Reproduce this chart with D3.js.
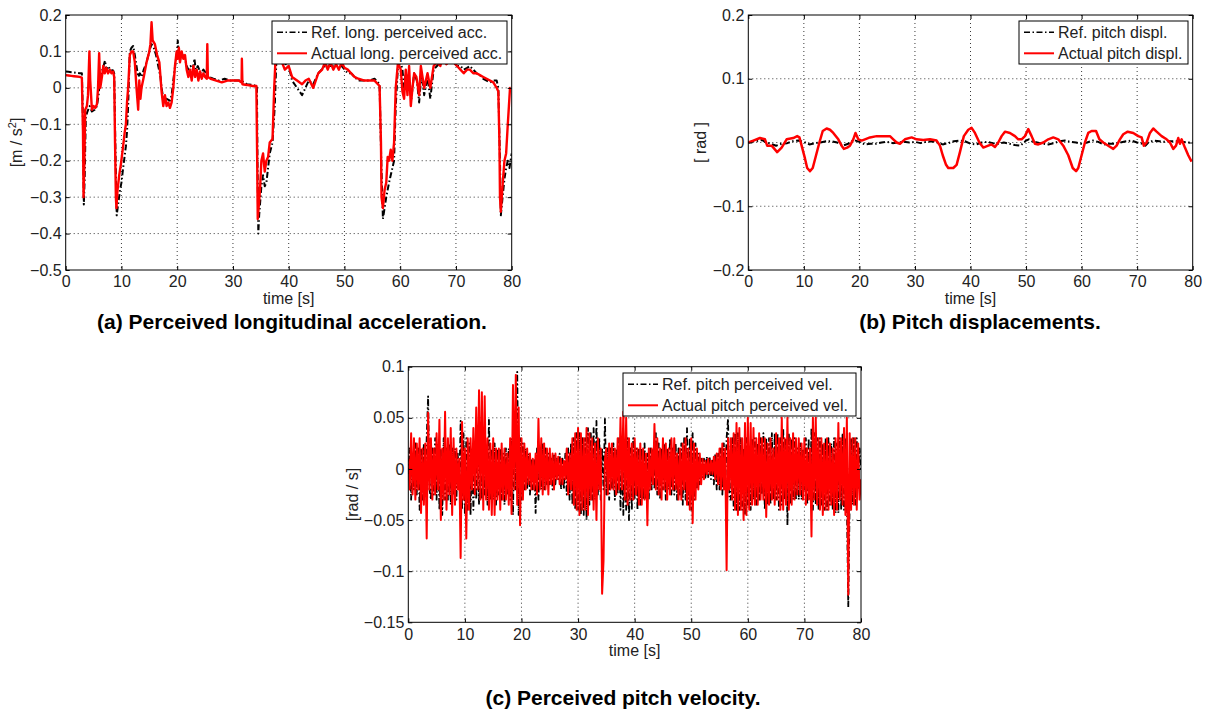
<!DOCTYPE html>
<html><head><meta charset="utf-8">
<script src="https://cdn.jsdelivr.net/npm/d3@7"></script>
<style>
html,body{margin:0;padding:0;background:#fff;}
svg{display:block;font-family:"Liberation Sans",Arial,Helvetica,sans-serif;}
</style></head><body>
<svg id="chart" width="1222" height="711"></svg>
<script>
// ---------------- data ----------------
const xTicks = [0,10,20,30,40,50,60,70,80];
const yTicksA = [-0.5,-0.4,-0.3,-0.2,-0.1,0,0.1,0.2];
const yTicksB = [-0.2,-0.1,0,0.1,0.2];
const yTicksC = [-0.15,-0.1,-0.05,0,0.05,0.1];

const titleA = "(a) Perceived longitudinal acceleration.";
const titleB = "(b) Pitch displacements.";
const titleC = "(c) Perceived pitch velocity.";
const legendA = ["Ref. long. perceived acc.","Actual long. perceived acc."];
const legendB = ["Ref. pitch displ.","Actual pitch displ."];
const legendC = ["Ref. pitch perceived vel.","Actual pitch perceived vel."];
const xLabel = "time [s]";

// (a) perceived longitudinal acceleration [time s, m/s^2]
const refLongAcc = [[0,.045],[0.5,.044],[1,.043],[1.5,.042],[2,.041],[2.5,.04],[2.9,.04],[3.0,-.02],[3.1,-.1],[3.25,-.32],[3.4,-.25],[3.6,-.08],[3.9,-.065],[4.3,-.05],[4.7,-.065],[5.2,-.06],[5.6,-.05],[5.9,-.02],[6.2,.03],[6.6,.05],[7.05,.075],[7.3,.05],[7.6,.06],[8.0,.05],[8.5,.048],[8.7,.04],[8.9,-.15],[9.15,-.35],[9.4,-.32],[9.75,-.28],[10.0,-.26],[10.3,-.22],[10.8,-.16],[11.0,-.12],[11.2,-.05],[11.5,.1],[11.8,.11],[12.1,.115],[12.4,.09],[12.7,.06],[13.0,.03],[13.3,.04],[13.6,.03],[14.0,.05],[14.5,.07],[15.0,.1],[15.4,.12],[15.8,.11],[16.2,.09],[16.6,.06],[17.0,.03],[17.2,0],[17.5,-.03],[18.1,-.03],[18.7,-.035],[19.0,-.02],[19.3,.02],[19.7,.07],[20.0,.1],[20.1,.13],[20.3,.09],[20.6,.08],[21.0,.09],[21.4,.08],[21.7,.06],[22.0,.05],[22.4,.06],[22.8,.05],[23.1,.08],[23.3,.05],[23.7,.06],[24.2,.04],[24.7,.05],[25.2,.04],[25.6,.03],[26.5,.025],[27.5,.02],[28.5,.025],[29.5,.02],[30.5,.02],[31.5,.02],[32.5,.01],[33.5,.008],[34.3,.005],[34.4,-.2],[34.55,-.40],[34.7,-.35],[35.1,-.27],[35.4,-.24],[35.7,-.27],[36.0,-.26],[36.6,-.18],[37.1,-.15],[37.5,-.05],[37.8,.08],[38.5,.1],[39.0,.07],[40.0,.06],[40.6,.02],[41.5,0],[42.4,-.02],[43.0,.0],[43.6,.02],[44.4,.01],[45.3,.04],[46.5,.06],[47.5,.06],[48.5,.06],[49.5,.06],[50.6,.04],[51.2,.04],[51.8,.03],[52.5,.02],[53.6,.02],[54.5,.02],[55.4,.025],[56.3,.01],[56.6,-.2],[56.9,-.36],[57.2,-.33],[57.5,-.3],[57.75,-.28],[58.0,-.26],[58.3,-.24],[58.6,-.22],[58.9,-.2],[59.2,-.05],[59.6,.06],[60.1,.07],[60.4,.05],[60.7,.0],[61.0,.04],[61.5,.02],[62.0,-.03],[62.5,.04],[63.0,.02],[63.4,-.04],[63.8,.04],[64.3,-.02],[64.9,.03],[65.4,-.03],[66.0,.05],[66.6,.06],[67.2,.07],[68,.08],[69,.08],[70.2,.06],[70.8,.06],[71.4,.05],[72.0,.055],[72.5,.06],[73.1,.05],[73.7,.04],[74.3,.035],[74.9,.025],[75.5,.02],[76.1,.015],[76.7,.02],[77.3,.02],[77.6,.0],[77.9,-.2],[78.05,-.35],[78.3,-.31],[78.7,-.25],[79.0,-.22],[79.3,-.2],[79.6,-.22],[80,-.18]];
const actLongAcc = [[0,.035],[0.5,.034],[1,.033],[1.5,.032],[2,.031],[2.5,.03],[2.9,.028],[3.0,-.05],[3.1,-.12],[3.2,-.30],[3.35,-.2],[3.5,-.06],[3.8,-.05],[4.0,-.02],[4.25,.10],[4.4,.02],[4.7,-.06],[5.0,-.05],[5.3,-.055],[5.6,-.045],[5.8,0],[6.0,.095],[6.2,.0],[6.5,.03],[6.75,.06],[7.0,.04],[7.3,.055],[7.6,.04],[7.9,.05],[8.2,.04],[8.5,.045],[8.7,.03],[8.85,-.15],[9.0,-.30],[9.1,-.33],[9.3,-.28],[9.6,-.24],[9.9,-.21],[10.3,-.16],[10.6,-.12],[10.8,-.10],[11.0,-.04],[11.2,0],[11.5,.09],[11.8,.1],[12.1,.10],[12.4,.07],[12.7,.0],[13.0,-.06],[13.2,.02],[13.4,-.03],[13.6,0],[14.0,.03],[14.5,.07],[15.0,.1],[15.2,.12],[15.4,.18],[15.6,.13],[16.0,.12],[16.4,.09],[16.8,.07],[17.0,.03],[17.2,-.01],[17.5,-.05],[17.8,-.02],[18.1,-.05],[18.4,-.04],[18.7,-.055],[19.0,-.04],[19.3,0],[19.6,.06],[19.9,.10],[20.1,.08],[20.3,.11],[20.5,.07],[20.8,.1],[21.1,.08],[21.4,.09],[21.7,.05],[22.0,.03],[22.3,.05],[22.6,.02],[22.9,.06],[23.2,.03],[23.5,.05],[23.8,.02],[24.1,.045],[24.4,.025],[24.7,.04],[25.0,.03],[25.3,.025],[25.4,.12],[25.5,.03],[26.0,.025],[27.0,.02],[28.0,.015],[29.0,.02],[30.0,.02],[31.0,.02],[31.55,.015],[31.6,.08],[31.7,.01],[32.5,.008],[33.5,.005],[34.2,.005],[34.35,-.2],[34.45,-.36],[34.6,-.33],[34.85,-.28],[35.1,-.2],[35.4,-.18],[35.7,-.23],[36.0,-.2],[36.3,-.19],[36.6,-.15],[37.1,-.14],[37.4,0],[37.7,.1],[38.2,.12],[38.8,.07],[39.3,.05],[40.0,.06],[40.6,.03],[41.5,.02],[42.4,.01],[43.0,.02],[43.6,.025],[44.4,0],[45.3,.04],[46.0,.05],[46.5,.07],[47.0,.05],[47.5,.07],[48.0,.05],[48.5,.065],[49.0,.05],[49.5,.07],[50.0,.055],[50.6,.05],[51.2,.04],[51.8,.03],[52.5,.025],[53.6,.02],[54.5,.02],[55.4,.02],[56.3,.005],[56.55,-.15],[56.65,-.30],[56.9,-.33],[57.2,-.28],[57.5,-.26],[57.75,-.19],[58.0,-.2],[58.3,-.17],[58.6,-.2],[58.9,-.15],[59.2,0],[59.6,.07],[60.1,.05],[60.4,-.01],[60.7,-.03],[61.0,.05],[61.3,-.02],[61.6,.06],[61.9,-.05],[62.2,0],[62.5,.04],[62.9,.03],[63.4,-.02],[63.7,.06],[64.3,0],[64.9,.04],[65.4,0],[66.0,.06],[66.6,.07],[67.2,.06],[67.5,.08],[68.3,.065],[69.0,.08],[69.6,.07],[70.2,.06],[70.8,.05],[71.4,.04],[72.0,.05],[72.5,.05],[73.1,.04],[73.7,.04],[74.3,.035],[74.9,.03],[75.5,.025],[76.1,.02],[76.7,.015],[77.3,0],[77.6,-.01],[77.8,-.15],[77.9,-.30],[78.05,-.34],[78.3,-.28],[78.7,-.2],[79.0,-.18],[79.3,-.1],[79.5,-.05],[79.7,0],[79.8,.0]];

// (b) pitch displacement [time s, rad]
const refPitch = [[0,0],[1,.002],[2,.003],[2.5,.004],[3,.001],[4,-.002],[5,-.005],[6,-.002],[7,-.001],[8,.002],[9,.003],[10,.001],[11,-.003],[12,-.001],[13,0],[14,.002],[15,.002],[16,0],[17,-.005],[18,-.002],[19,.004],[20,.001],[21,-.003],[22,-.002],[23,-.002],[24,0],[25,.001],[26,-.001],[27,0],[28,.001],[29,0],[30,.001],[31,-.001],[32,.001],[33,.002],[34,0],[35,-.003],[36,-.001],[37,.002],[38,.003],[39,.002],[40,-.002],[41,-.003],[42,0],[43,.001],[44,-.001],[45,-.002],[46,0],[47,-.002],[48,-.004],[49,-.005],[50,.003],[50.5,.005],[51,.002],[52,0],[53,-.002],[54,-.003],[55,-.001],[56,.002],[57,.003],[58,.001],[59,0],[60,-.002],[61,0],[62,.003],[63,.001],[64,-.003],[65,-.002],[66,-.002],[67,0],[68,.002],[69,.003],[70,0],[71,-.002],[71.5,-.005],[72,0],[73,.003],[74,.002],[75,.001],[76,.002],[77,.002],[78,.001],[79,0],[80,0]];
const actPitch = [[0,0],[0.9,.003],[2.1,.007],[3.0,.005],[3.4,-.005],[4.2,-.005],[5.2,-.015],[6.0,-.008],[6.9,.005],[8.1,.007],[8.8,.01],[9.2,.008],[9.6,-.005],[10.2,-.025],[10.6,-.04],[11.1,-.045],[11.6,-.04],[12.2,-.02],[12.8,0],[13.4,.018],[14.1,.022],[14.7,.02],[15.3,.015],[16.2,.005],[16.8,-.005],[17.2,-.01],[17.8,-.008],[18.3,-.005],[18.9,.005],[19.3,.015],[19.8,.005],[20.4,.003],[21.0,.005],[21.9,.008],[23.1,.01],[24.3,.01],[25.5,.01],[26.1,.005],[26.7,0],[27.3,-.002],[28.2,.005],[29.4,.008],[30.3,.005],[31.5,.004],[32.7,.005],[33.9,.003],[34.5,-.005],[35.0,-.02],[35.6,-.035],[36.0,-.04],[36.9,-.04],[37.5,-.035],[38.1,-.015],[38.8,.01],[39.6,.02],[40.2,.023],[40.8,.015],[41.6,0],[42.3,-.008],[43.2,-.005],[43.8,-.003],[44.4,-.007],[45.0,0],[45.6,.01],[46.2,.017],[47.1,.015],[48.0,.01],[48.6,.005],[49.2,.005],[49.8,.01],[50.4,.021],[51.0,.01],[51.6,-.002],[52.2,-.003],[53.1,0],[54.0,.005],[54.9,.008],[55.8,.005],[56.7,-.005],[57.6,-.02],[58.4,-.04],[59.0,-.045],[59.4,-.04],[60.0,-.02],[60.6,0],[61.2,.015],[61.8,.018],[62.6,.018],[63.2,.005],[63.9,0],[64.8,-.005],[65.7,-.01],[66.3,-.005],[66.9,.005],[67.5,.013],[68.3,.017],[69.3,.015],[70.2,.01],[70.8,.008],[71.2,-.005],[71.7,0],[72.3,.015],[72.9,.022],[73.5,.017],[74.4,.01],[75.3,.005],[75.9,0],[76.5,-.01],[77.0,-.005],[77.4,.007],[77.7,-.002],[78.0,.005],[78.6,-.008],[79.2,-.02],[79.8,-.03]];

// (c) perceived pitch velocity [rad/s], one sample every 0.25 s from t = 0 to 80
const velSampleStep = 0.25;
const refPitchVel = [
-.005,.02,-.03,.015, -.02,.025,-.025,.02, -.04,.02,-.03,.025, -.02,.03,.071,-.02, -.03,.02,-.025,.03,
-.03,.025,-.04,.02, -.045,.03,-.03,.02, -.03,.025,-.035,.02, -.025,.02,-.03,.015, -.02,.047,-.04,.035,
-.045,.03,-.04,.025, -.045,.02,-.04,.015, -.03,.02,-.035,.025, -.03,.035,-.025,.02, -.035,.048,-.03,.02,
-.03,.025,-.035,.02, -.025,.02,-.03,.015, -.035,.02,-.025,.02, -.03,.03,-.045,.05, -.02,.095,-.045,.03,
-.03,.025,-.02,.02, -.02,.015,-.025,.01, -.02,.01,-.043,.02, -.03,.02,-.02,.025, -.02,.02,-.015,.015,
-.015,.01,-.02,.015, -.015,.01,-.01,.015, -.02,.01,-.02,.015, -.025,.02,-.03,.025, -.035,.03,-.04,.035,
-.04,.035,-.045,.03, -.045,.03,-.05,.04, -.035,.035,-.03,.04, -.03,.047,-.025,.03, -.03,.02,-.02,.049,
-.025,.02,-.03,.02, -.02,.025,-.03,.02, -.025,.03,-.04,.02, -.045,.025,-.04,.03, -.05,.02,-.04,.03,
-.03,.02,-.04,.02, -.035,.02,-.03,.025, -.03,.015,-.03,.02, -.02,.02,-.02,.035, -.025,.025,-.03,.02,
-.02,.025,-.03,.02, -.02,.03,-.025,.02, -.025,.025,-.03,.02, -.025,.025,-.035,.03, -.03,.04,-.035,.03,
-.04,.035,-.03,.025, -.02,.015,-.015,.01, -.008,.01,-.01,.012, -.008,.012,-.01,.008, -.015,.015,-.02,.015,
-.02,.02,-.025,.025, -.02,.03,.049,-.03, -.03,.03,-.04,.035, -.04,.035,-.04,.03, -.04,.02,-.045,.03,
-.035,.01,-.04,.03, -.03,.03,-.035,.025, -.03,.03,-.025,.035, -.04,.03,-.035,.03, -.035,.035,-.03,.035,
-.03,.035,-.04,.03, -.035,.04,-.03,.03, -.055,.035,-.035,.03, -.03,.03,-.03,.02, -.03,.025,-.03,.02,
-.02,.03,-.035,.03, -.03,.04,-.04,.035, -.035,.03,-.04,.03, -.035,.025,-.04,.03, -.04,.03,-.035,.025,
-.04,.03,-.043,.025, -.043,.03,-.04,.035, -.04,.03,-.03,-.135, -.03,.03,-.035,.03, -.035,.03,-.02,.02,
0];
const actPitchVel = [
.01,-.02,.035,-.025, .03,-.03,.025,-.02, .03,-.043,.02,-.035, .025,-.068,.055,-.02, .03,-.03,.02,-.025,
.035,-.02,.048,-.05, .02,-.03,.056,-.04, .03,-.025,.04,-.045, .03,-.035,.02,-.02, .01,-.087,.046,-.03,
.02,-.068,.03,-.04, .03,-.02,.04,-.025, .06,-.02,.077,-.03, .075,-.04,.071,-.03, .03,-.04,.025,-.045,
.03,-.045,.02,-.03, .02,-.04,.025,-.03, .02,-.03,.015,-.035, .03,-.044,.082,-.02, .092,-.035,.06,-.055,
.03,-.03,.025,-.02, .02,-.015,.015,-.02, .01,-.02,.015,-.025, .049,-.02,.03,-.025, .025,-.02,.02,-.025,
.02,-.015,.015,-.02, .015,-.01,.012,-.015, .01,-.015,.008,-.01, .02,-.025,.015,-.02, .03,-.035,.035,-.04,
.04,-.045,.035,-.04, .03,-.04,.04,-.045, .035,-.03,.03,-.04, .025,-.05,.03,-.02, .02,-.122,-.09,.01,
.02,-.025,.025,-.02, .025,-.02,.02,-.025, .03,-.02,.05,-.02, .056,-.03,.05,-.035, .03,-.03,.025,-.03,
.03,-.025,.02,-.035, .025,-.035,.02,-.03, .015,-.055,.02,-.02, .02,-.015,.044,-.02, .03,-.025,.02,-.03,
.03,-.02,.025,-.03, .02,-.025,.03,-.02, .03,-.02,.015,-.03, .02,-.03,.025,-.02, .03,-.035,.02,-.04,
.03,-.053,.025,-.03, .02,-.02,.015,-.015, .01,-.01,.008,-.005, .01,-.005,.008,-.005, .012,-.01,.015,-.015,
.02,-.02,.025,-.02, .02,-.099,.03,-.02, .03,-.03,.035,-.04, .045,-.045,.04,-.04, .03,-.05,.045,-.045,
.05,-.04,.045,-.035, .04,-.035,.03,-.035, .035,-.03,.03,-.03, .03,-.047,.025,-.035, .03,-.03,.02,-.035,
.035,-.03,.03,-.04, .05,-.04,.03,-.035, .05,-.04,.03,-.035, .035,-.03,.03,-.025, .03,-.025,.025,-.03,
.03,-.035,.02,-.03, .02,-.066,.05,-.03, .05,-.035,.03,-.04, .03,-.045,.025,-.04, .03,-.04,.025,-.035,
.02,-.045,.03,-.04, .045,-.03,.03,-.035, .04,-.045,.05,-.123, .035,-.04,.03,-.035, .03,-.04,.025,-.03,
-.01];

// ---------------- drawing ----------------
const svg = d3.select("#chart");
const FONT = '"Liberation Sans",Arial,Helvetica,sans-serif';
const TEXT = "#222";
const fmt = d3.format("~g");
const toPairs = vals => vals.map((v,i)=>[i*velSampleStep, v]);

function panel(cfg){
  const {L,R,T,B,id} = cfg;
  const x = d3.scaleLinear().domain([0,80]).range([L,R]);
  const y = d3.scaleLinear().domain(cfg.yDomain).range([B,T]);
  const g = svg.append("g");

  svg.append("defs").append("clipPath").attr("id","clip"+id)
    .append("rect").attr("x",L).attr("y",T).attr("width",R-L).attr("height",B-T);

  // dotted grid
  const grid = g.append("g").attr("stroke","#222").attr("stroke-width",0.9).attr("stroke-dasharray","1,3");
  grid.selectAll(".gx").data(xTicks.slice(1,-1)).join("line")
    .attr("x1",d=>x(d)).attr("x2",d=>x(d)).attr("y1",T).attr("y2",B);
  grid.selectAll(".gy").data(cfg.yTicks.slice(1,-1)).join("line")
    .attr("y1",d=>y(d)).attr("y2",d=>y(d)).attr("x1",L).attr("x2",R);

  // series
  const line = d3.line().x(d=>x(d[0])).y(d=>y(d[1]));
  const lines = g.append("g").attr("clip-path",`url(#clip${id})`);
  lines.append("path").datum(cfg.ref).attr("d",line).attr("fill","none")
    .attr("stroke","#000").attr("stroke-width",cfg.refW).attr("stroke-dasharray","6,2.5,1.5,2.5")
    .attr("stroke-linejoin","round");
  lines.append("path").datum(cfg.act).attr("d",line).attr("fill","none")
    .attr("stroke","#ff0000").attr("stroke-width",cfg.actW).attr("stroke-linejoin","round");

  // axes (inward ticks on all four sides)
  function styleAxis(sel){
    sel.attr("font-size",16).attr("font-family",FONT);
    sel.select(".domain").remove();
    sel.selectAll(".tick line").attr("stroke","#000");
    sel.selectAll(".tick text").attr("fill",TEXT);
  }
  g.append("g").attr("transform",`translate(0,${B})`)
    .call(d3.axisBottom(x).tickValues(xTicks).tickSize(-4).tickPadding(6).tickFormat(fmt)).call(styleAxis);
  g.append("g").attr("transform",`translate(0,${T})`)
    .call(d3.axisTop(x).tickValues(xTicks).tickSize(-4).tickFormat("")).call(styleAxis);
  g.append("g").attr("transform",`translate(${L},0)`)
    .call(d3.axisLeft(y).tickValues(cfg.yTicks).tickSize(-4).tickPadding(4).tickFormat(fmt)).call(styleAxis);
  g.append("g").attr("transform",`translate(${R},0)`)
    .call(d3.axisRight(y).tickValues(cfg.yTicks).tickSize(-4).tickFormat("")).call(styleAxis);
  g.append("rect").attr("x",L).attr("y",T).attr("width",R-L).attr("height",B-T)
    .attr("fill","none").attr("stroke","#000").attr("stroke-width",1);

  // axis labels
  g.append("text").attr("x",(L+R)/2).attr("y",cfg.xLabelY).attr("text-anchor","middle")
    .attr("font-size",16).attr("font-family",FONT).attr("fill",TEXT).text(xLabel);
  const yl = g.append("text").attr("transform",`translate(${cfg.yLabelX},${(T+B)/2}) rotate(-90)`)
    .attr("text-anchor","middle").attr("font-size",16).attr("font-family",FONT).attr("fill",TEXT);
  cfg.yLabel(yl);

  // legend
  const lg = cfg.legend;
  const leg = g.append("g");
  leg.append("rect").attr("x",lg.x).attr("y",lg.y).attr("width",lg.w).attr("height",lg.h)
    .attr("fill","#fff").attr("stroke","#000").attr("stroke-width",1);
  const rows = [{dash:"6,2.5,1.5,2.5",color:"#000",w:1.6},{dash:null,color:"#ff0000",w:2}];
  rows.forEach((r,i)=>{
    const cy = lg.y + 11.3 + i*21;
    leg.append("line").attr("x1",lg.x+5).attr("x2",lg.x+35).attr("y1",cy).attr("y2",cy)
      .attr("stroke",r.color).attr("stroke-width",r.w).attr("stroke-dasharray",r.dash);
    leg.append("text").attr("x",lg.x+39).attr("y",cy+5.7).attr("font-size",16)
      .attr("font-family",FONT).attr("fill",TEXT).text(cfg.legendLabels[i]);
  });

  // caption
  svg.append("text").attr("x",cfg.titleX).attr("y",cfg.titleY).attr("text-anchor","middle")
    .attr("font-size",21).attr("font-weight","bold").attr("font-family",FONT).attr("fill","#000")
    .text(cfg.title);
}

panel({id:"a", L:65.7, R:511.7, T:15, B:270, yDomain:[-0.5,0.2], yTicks:yTicksA,
  ref:refLongAcc, act:actLongAcc, refW:2, actW:2.4, xLabelY:304, yLabelX:22,
  yLabel: t => { t.append("tspan").text("[m / s"); t.append("tspan").attr("dy",-6).attr("font-size",11).text("2"); t.append("tspan").attr("dy",6).text("]"); },
  legend:{x:272,y:21,w:235,h:43}, legendLabels:legendA,
  title:titleA, titleX:292, titleY:329});

panel({id:"b", L:748.3, R:1192.7, T:15, B:270, yDomain:[-0.2,0.2], yTicks:yTicksB,
  ref:refPitch, act:actPitch, refW:2, actW:2.5, xLabelY:304, yLabelX:706,
  yLabel: t => t.text("[ rad ]"),
  legend:{x:1019,y:21,w:169,h:43}, legendLabels:legendB,
  title:titleB, titleX:980, titleY:329});

panel({id:"c", L:408.3, R:861, T:366.7, B:622.3, yDomain:[-0.15,0.1], yTicks:yTicksC,
  ref:toPairs(refPitchVel), act:toPairs(actPitchVel), refW:1.8, actW:2, xLabelY:656, yLabelX:358,
  yLabel: t => t.text("[rad / s]"),
  legend:{x:623,y:373,w:233,h:43}, legendLabels:legendC,
  title:titleC, titleX:623, titleY:705});
</script>
</body></html>
